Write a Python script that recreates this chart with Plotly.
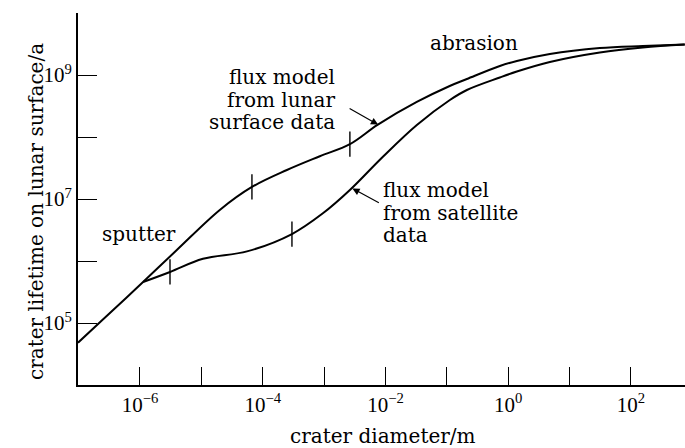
import plotly.graph_objects as go

# ---- data (log10 of values) ----
lunar_log_d = [-7.01, -6.60, -5.95, -5.40, -4.70, -4.176, -3.606, -3.07, -2.58, -2.124, -1.49, -0.954, -0.674, -0.137, 0.140, 0.678, 1.492, 2.192, 2.876]
lunar_log_t = [4.682, 5.06, 5.661, 6.177, 6.823, 7.194, 7.468, 7.69, 7.885, 8.20, 8.565, 8.823, 8.935, 9.145, 9.226, 9.339, 9.435, 9.468, 9.492]

sat_log_d = [-5.95, -5.511, -4.974, -4.257, -3.524, -3.02, -2.58, -2.042, -1.489, -0.951, -0.674, -0.137, 0.140, 0.678, 1.492, 2.192, 2.876]
sat_log_t = [5.661, 5.823, 6.035, 6.155, 6.435, 6.769, 7.145, 7.682, 8.194, 8.597, 8.758, 8.96, 9.056, 9.21, 9.363, 9.444, 9.492]

lunar_marks_log_d = [-4.176, -2.58]
lunar_marks_log_t = [7.194, 7.885]
sat_marks_log_d = [-5.511, -3.524]
sat_marks_log_t = [5.823, 6.435]

x_tick_exp = [-6, -5, -4, -3, -2, -1, 0, 1, 2]
x_label_exp = [-6, -4, -2, 0, 2]
y_tick_exp = [5, 6, 7, 8, 9, 10]
y_label_exp = [5, 7, 9]


def pw(v):
    return [10 ** e for e in v]


def sup(e):
    s = str(e).replace("-", "\u2212")
    return "10<sup>" + s + "</sup>"


FONT = "DejaVu Serif"
TICKFONT = "Liberation Serif"

fig = go.Figure()
for xs, ys in [(lunar_log_d, lunar_log_t), (sat_log_d, sat_log_t)]:
    fig.add_trace(go.Scatter(x=pw(xs), y=pw(ys), mode="lines",
                             line=dict(color="black", width=2, shape="spline", smoothing=1.0),
                             hoverinfo="skip", showlegend=False))
for xs, ys in [(lunar_marks_log_d, lunar_marks_log_t), (sat_marks_log_d, sat_marks_log_t)]:
    fig.add_trace(go.Scatter(x=pw(xs), y=pw(ys), mode="markers",
                             marker=dict(symbol="line-ns", size=18, color="black",
                                         line=dict(color="black", width=1.4)),
                             hoverinfo="skip", showlegend=False))

L, R, T, B = 78, 0, 13, 63
W, H = 685, 448
PW, PH = W - L - R, H - T - B


def px(x):
    return (x - L) / PW


def py(y):
    return (H - B - y) / PH


ann = []


def txt(s, x, y, xanchor="left", size=20):
    ann.append(dict(text=s, x=px(x), y=py(y), xref="paper", yref="paper",
                    xanchor=xanchor, yanchor="middle", showarrow=False,
                    font=dict(family=FONT, size=size, color="black")))


txt("abrasion", 428, 43)
txt("flux model", 337, 77, "right")
txt("from lunar", 337, 100, "right")
txt("surface data", 337, 122, "right")
txt("flux model", 381, 190)
txt("from satellite", 381, 213)
txt("data", 381, 235)
txt("sputter", 100, 234)
txt("crater diameter/m", 383, 436, "center")
ann.append(dict(text="crater lifetime on lunar surface/a", x=px(36), y=py(212), xref="paper",
                yref="paper", xanchor="center", yanchor="middle", showarrow=False,
                textangle=-90, font=dict(family=FONT, size=20, color="black")))

# arrows
ann.append(dict(x=-2.12, y=8.20, xref="x", yref="y", ax=-30, ay=-17, text="",
                showarrow=True, arrowhead=2, arrowsize=1.2, arrowwidth=1.2, arrowcolor="black"))
ann.append(dict(x=-2.54, y=7.17, xref="x", yref="y", ax=28, ay=15, text="",
                showarrow=True, arrowhead=2, arrowsize=1.2, arrowwidth=1.2, arrowcolor="black"))

fig.update_layout(
    width=W, height=H,
    margin=dict(l=L, r=R, t=T, b=B),
    paper_bgcolor="white", plot_bgcolor="white",
    font=dict(family=FONT, size=18, color="black"),
    annotations=ann,
    xaxis=dict(type="log", range=[-7.01, 2.88], showgrid=False, zeroline=False,
               showline=True, linecolor="black", linewidth=2, mirror=False,
               ticks="inside", ticklen=18, tickwidth=1.4, tickcolor="black",
               tickvals=pw(x_tick_exp),
               ticktext=[sup(e) if e in x_label_exp else "" for e in x_tick_exp],
               tickfont=dict(family=TICKFONT, size=21),
               ticklabelstandoff=0),
    yaxis=dict(type="log", range=[4, 10], showgrid=False, zeroline=False,
               showline=True, linecolor="black", linewidth=2, mirror=False,
               ticks="inside", ticklen=19, tickwidth=1.4, tickcolor="black",
               tickvals=pw(y_tick_exp),
               ticktext=[sup(e) if e in y_label_exp else "" for e in y_tick_exp],
               tickfont=dict(family=TICKFONT, size=21),
               ticklabelstandoff=0),
)

fig.write_html("out.html", config={"displayModeBar": False},
               post_script="document.body.style.margin='0';")
